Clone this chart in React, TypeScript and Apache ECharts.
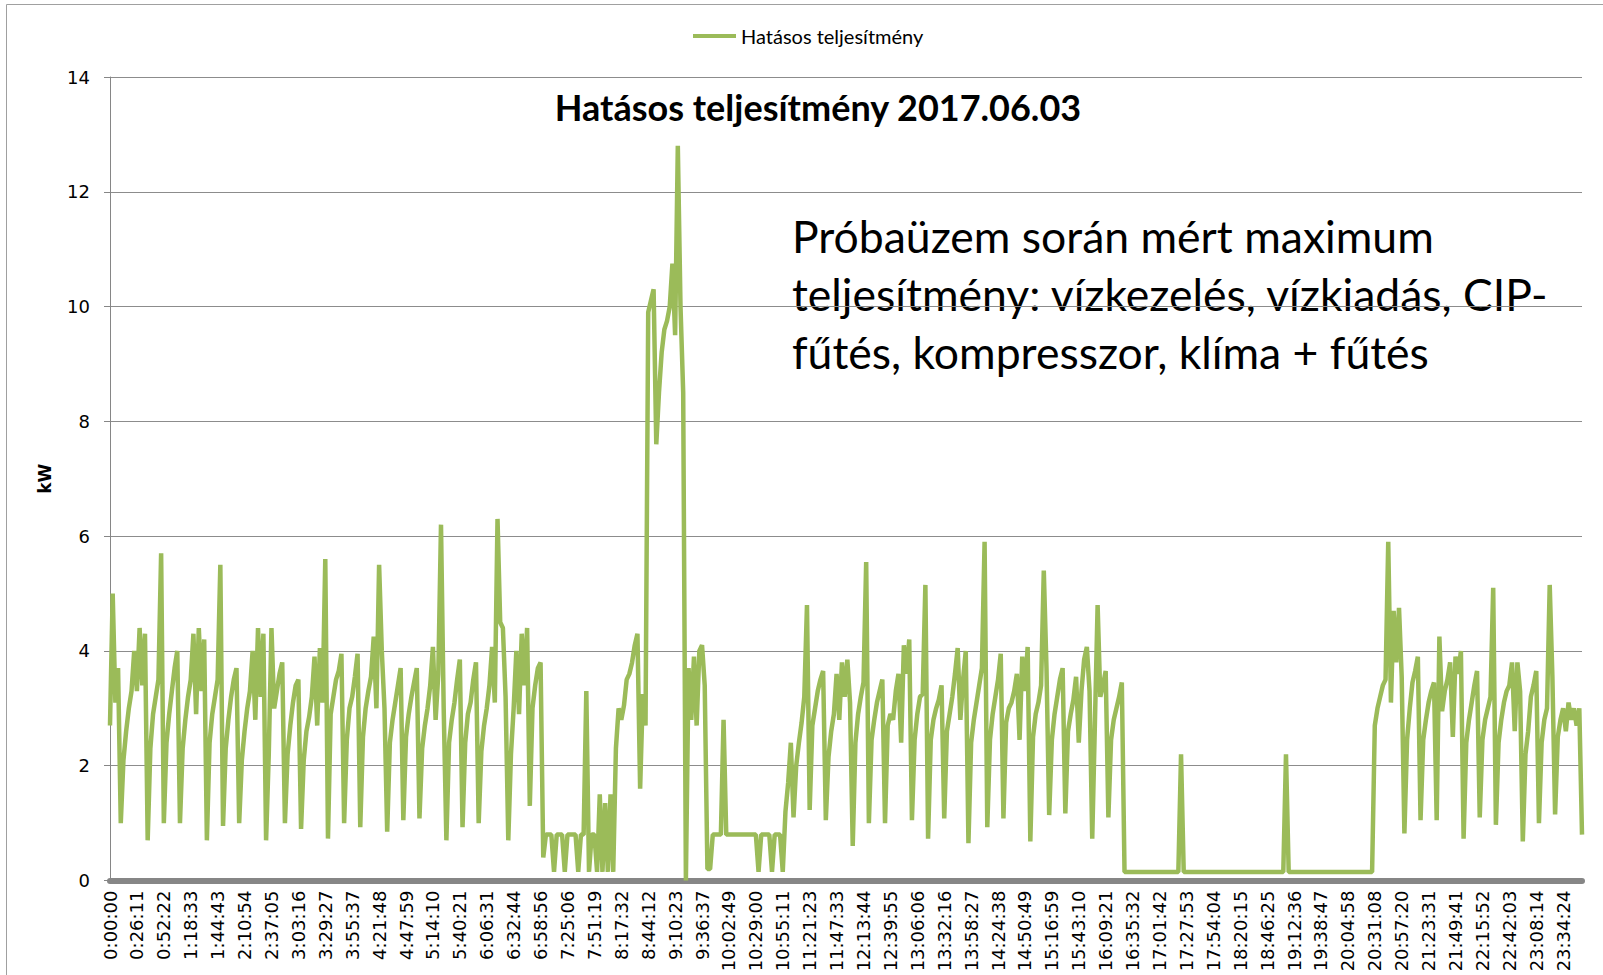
import React, { useEffect, useRef } from 'react';
import * as echarts from 'echarts';

const tickLabels = [
  '0:00:00', '0:26:11', '0:52:22', '1:18:33', '1:44:43', '2:10:54', '2:37:05', '3:03:16', '3:29:27', '3:55:37',
  '4:21:48', '4:47:59', '5:14:10', '5:40:21', '6:06:31', '6:32:44', '6:58:56', '7:25:06', '7:51:19', '8:17:32',
  '8:44:12', '9:10:23', '9:36:37', '10:02:49', '10:29:00', '10:55:11', '11:21:23', '11:47:33', '12:13:44', '12:39:55',
  '13:06:06', '13:32:16', '13:58:27', '14:24:38', '14:50:49', '15:16:59', '15:43:10', '16:09:21', '16:35:32', '17:01:42',
  '17:27:53', '17:54:04', '18:20:15', '18:46:25', '19:12:36', '19:38:47', '20:04:58', '20:31:08', '20:57:20', '21:23:31',
  '21:49:41', '22:15:52', '22:42:03', '23:08:14', '23:34:24',
];

const samplesPerLabel = 10;

const power = [
  2.7, 5.0, 3.1, 3.7, 1.0, 2.1, 2.6, 3.0, 3.3, 4.0,
  3.3, 4.4, 3.4, 4.3, 0.7, 2.3, 2.9, 3.2, 3.5, 5.7,
  1.0, 2.4, 2.9, 3.3, 3.7, 4.0, 1.0, 2.3, 2.8, 3.2,
  3.5, 4.3, 2.9, 4.4, 3.3, 4.2, 0.7, 2.4, 2.9, 3.2,
  3.5, 5.5, 0.95, 2.3, 2.8, 3.2, 3.5, 3.7, 1.0, 2.1,
  2.6, 3.0, 3.3, 4.0, 2.8, 4.4, 3.2, 4.3, 0.7, 2.2,
  4.4, 3.0, 3.3, 3.6, 3.8, 1.0, 2.2, 2.7, 3.1, 3.4,
  3.5, 0.9, 2.1, 2.6, 2.85, 3.2, 3.9, 2.7, 4.05, 3.1,
  5.6, 0.73, 2.9, 3.2, 3.5, 3.65, 3.95, 1.0, 2.45, 3.0,
  3.2, 3.55, 3.95, 0.93, 2.5, 3.0, 3.3, 3.55, 4.25, 3.0,
  5.5, 4.0, 3.0, 0.85, 2.4, 2.8, 3.1, 3.4, 3.7, 1.05,
  2.5, 2.9, 3.2, 3.45, 3.7, 1.08, 2.3, 2.7, 3.0, 3.4,
  4.07, 2.8, 3.6, 6.2, 3.0, 0.7, 2.4, 2.8, 3.1, 3.5,
  3.85, 0.93, 2.4, 2.9, 3.1, 3.5, 3.8, 1.0, 2.25, 2.7,
  3.0, 3.4, 4.07, 3.1, 6.3, 4.5, 4.4, 3.2, 0.7, 2.2,
  3.0, 4.0, 2.9, 4.3, 3.4, 4.4, 1.3, 3.0, 3.4, 3.7,
  3.8, 0.4, 0.8, 0.8, 0.8, 0.15, 0.8, 0.8, 0.8, 0.15,
  0.8, 0.8, 0.8, 0.8, 0.15, 0.8, 0.8, 3.3, 0.15, 0.8,
  0.8, 0.15, 1.5, 0.15, 1.35, 0.15, 1.5, 0.15, 2.3, 3.0,
  2.8, 3.05, 3.5, 3.6, 3.8, 4.1, 4.3, 1.6, 3.25, 2.7,
  9.9, 10.1, 10.3, 7.6, 8.5, 9.2, 9.6, 9.75, 10.0, 10.75,
  9.5, 12.8, 10.0, 8.5, 0.0, 3.7, 2.8, 3.9, 2.7, 4.0,
  4.1, 3.4, 0.2, 0.2, 0.8, 0.8, 0.8, 0.8, 2.8, 0.8,
  0.8, 0.8, 0.8, 0.8, 0.8, 0.8, 0.8, 0.8, 0.8, 0.8,
  0.8, 0.15, 0.8, 0.8, 0.8, 0.8, 0.15, 0.8, 0.8, 0.8,
  0.15, 1.2, 1.7, 2.4, 1.1, 2.0, 2.4, 2.75, 3.2, 4.8,
  1.23, 2.7, 3.0, 3.3, 3.5, 3.65, 1.05, 2.15, 2.6, 2.9,
  3.6, 2.8, 3.8, 3.2, 3.85, 3.1, 0.6, 2.4, 2.9, 3.2,
  3.45, 5.55, 1.0, 2.45, 2.8, 3.1, 3.3, 3.5, 1.0, 2.7,
  2.9, 2.8, 3.3, 3.6, 2.4, 4.1, 3.6, 4.2, 1.05, 2.45,
  2.9, 3.2, 3.25, 5.15, 0.73, 2.45, 2.8, 3.0, 3.15, 3.4,
  1.08, 2.6, 2.9, 3.2, 3.6, 4.05, 2.8, 3.5, 4.0, 0.65,
  2.4, 2.8, 3.1, 3.4, 3.7, 5.9, 0.93, 2.45, 2.9, 3.2,
  3.5, 3.95, 1.08, 2.75, 3.0, 3.1, 3.3, 3.6, 2.45, 3.9,
  3.3, 4.07, 0.68, 2.5, 2.9, 3.1, 3.4, 5.4, 3.7, 1.14,
  2.45, 2.9, 3.2, 3.5, 3.7, 1.17, 2.6, 2.9, 3.15, 3.55,
  2.4, 3.3, 3.85, 4.07, 3.3, 0.73, 2.75, 4.8, 3.2, 3.4,
  3.65, 1.1, 2.45, 2.8, 3.0, 3.2, 3.45, 0.15, 0.15, 0.15,
  0.15, 0.15, 0.15, 0.15, 0.15, 0.15, 0.15, 0.15, 0.15, 0.15,
  0.15, 0.15, 0.15, 0.15, 0.15, 0.15, 0.15, 0.15, 2.2, 0.15,
  0.15, 0.15, 0.15, 0.15, 0.15, 0.15, 0.15, 0.15, 0.15, 0.15,
  0.15, 0.15, 0.15, 0.15, 0.15, 0.15, 0.15, 0.15, 0.15, 0.15,
  0.15, 0.15, 0.15, 0.15, 0.15, 0.15, 0.15, 0.15, 0.15, 0.15,
  0.15, 0.15, 0.15, 0.15, 0.15, 0.15, 0.15, 2.2, 0.15, 0.15,
  0.15, 0.15, 0.15, 0.15, 0.15, 0.15, 0.15, 0.15, 0.15, 0.15,
  0.15, 0.15, 0.15, 0.15, 0.15, 0.15, 0.15, 0.15, 0.15, 0.15,
  0.15, 0.15, 0.15, 0.15, 0.15, 0.15, 0.15, 0.15, 0.15, 0.15,
  2.7, 3.0, 3.2, 3.4, 3.5, 5.9, 3.1, 4.7, 3.8, 4.75,
  3.55, 0.82, 2.45, 3.0, 3.45, 3.65, 3.9, 1.05, 2.45, 2.8,
  3.1, 3.3, 3.45, 1.05, 4.25, 2.95, 3.3, 3.5, 3.8, 2.5,
  3.9, 3.6, 4.0, 0.73, 2.4, 2.8, 3.1, 3.4, 3.65, 1.1,
  2.45, 2.8, 3.0, 3.2, 5.1, 0.97, 2.4, 2.8, 3.1, 3.3,
  3.4, 3.8, 2.6, 3.8, 3.3, 0.68, 2.2, 2.6, 3.2, 3.4,
  3.65, 1.0, 2.4, 2.8, 3.0, 5.15, 3.55, 1.15, 2.5, 2.8,
  3.0, 2.6, 3.1, 2.8, 3.0, 2.7, 3.0, 0.8,
];

const seriesName = 'Hatásos teljesítmény';
const chartTitle = 'Hatásos teljesítmény 2017.06.03';
const noteLines = [
  'Próbaüzem során mért maximum',
  'teljesítmény: vízkezelés, vízkiadás, CIP-',
  'fűtés, kompresszor, klíma + fűtés',
];
const yAxisName = 'kW';

export default function App() {
  const ref = useRef<HTMLDivElement>(null);

  useEffect(() => {
    document.body.style.margin = '0';
    const chart = echarts.init(ref.current!, null, { renderer: 'svg' });
    const categories = power.map((_, i) => String(i));
    chart.setOption({
      animation: false,
      backgroundColor: '#ffffff',
      legend: {
        data: [seriesName],
        left: 693,
        top: 26,
        icon: 'rect',
        itemWidth: 43,
        itemHeight: 4,
        padding: 0,
        textStyle: { fontFamily: 'Lato', fontSize: 20, color: '#000' },
      },
      grid: { left: 110, top: 77, right: 21, bottom: 94.5 },
      xAxis: {
        type: 'category',
        data: categories,
        boundaryGap: false,
        axisLine: { lineStyle: { color: '#868686', width: 6 } },
        axisTick: { show: false },
        axisLabel: {
          interval: samplesPerLabel - 1,
          rotate: 90,
          margin: 10,
          fontFamily: 'DejaVu Sans',
          fontSize: 18,
          color: '#000',
          formatter: (_v: string, idx: number) => tickLabels[Math.round(idx / samplesPerLabel)] ?? '',
        },
        splitLine: { show: false },
      },
      yAxis: {
        type: 'value',
        min: 0,
        max: 14,
        interval: 2,
        name: yAxisName,
        nameLocation: 'middle',
        nameGap: 57,
        nameRotate: 90,
        nameTextStyle: { fontFamily: 'DejaVu Sans', fontWeight: 'bold', fontSize: 17, color: '#000' },
        axisLine: { show: true, lineStyle: { color: '#868686', width: 1 } },
        axisTick: { show: true, length: 6, lineStyle: { color: '#868686' } },
        axisLabel: { fontFamily: 'DejaVu Sans', fontSize: 18, color: '#000', margin: 20 },
        splitLine: { lineStyle: { color: '#8c8c8c', width: 1 } },
      },
      series: [
        {
          type: 'line',
          name: seriesName,
          data: power,
          showSymbol: false,
          symbol: 'none',
          lineStyle: { color: '#9BBB59', width: 4.5 },
          itemStyle: { color: '#9BBB59' },
          z: 3,
        },
      ],
      graphic: [
        {
          type: 'rect',
          silent: true,
          shape: { x: 6.5, y: 4.5, width: 2000, height: 2000 },
          style: { fill: 'none', stroke: '#a0a0a0', lineWidth: 1 },
        },
        {
          type: 'text',
          x: 818,
          y: 107,
          style: {
            text: chartTitle,
            font: 'bold 36px Lato',
            fill: '#000',
            textAlign: 'center',
            textVerticalAlign: 'middle',
          },
        },
        ...noteLines.map((t, k) => ({
          type: 'text',
          x: 792,
          y: 235 + k * 58,
          style: {
            text: t,
            font: '44.5px Lato',
            fill: '#000',
            textAlign: 'left',
            textVerticalAlign: 'middle',
          },
        })),
      ],
    });
    return () => chart.dispose();
  }, []);

  return <div ref={ref} style={{ width: 1603, height: 975, overflow: 'hidden' }} />;
}
